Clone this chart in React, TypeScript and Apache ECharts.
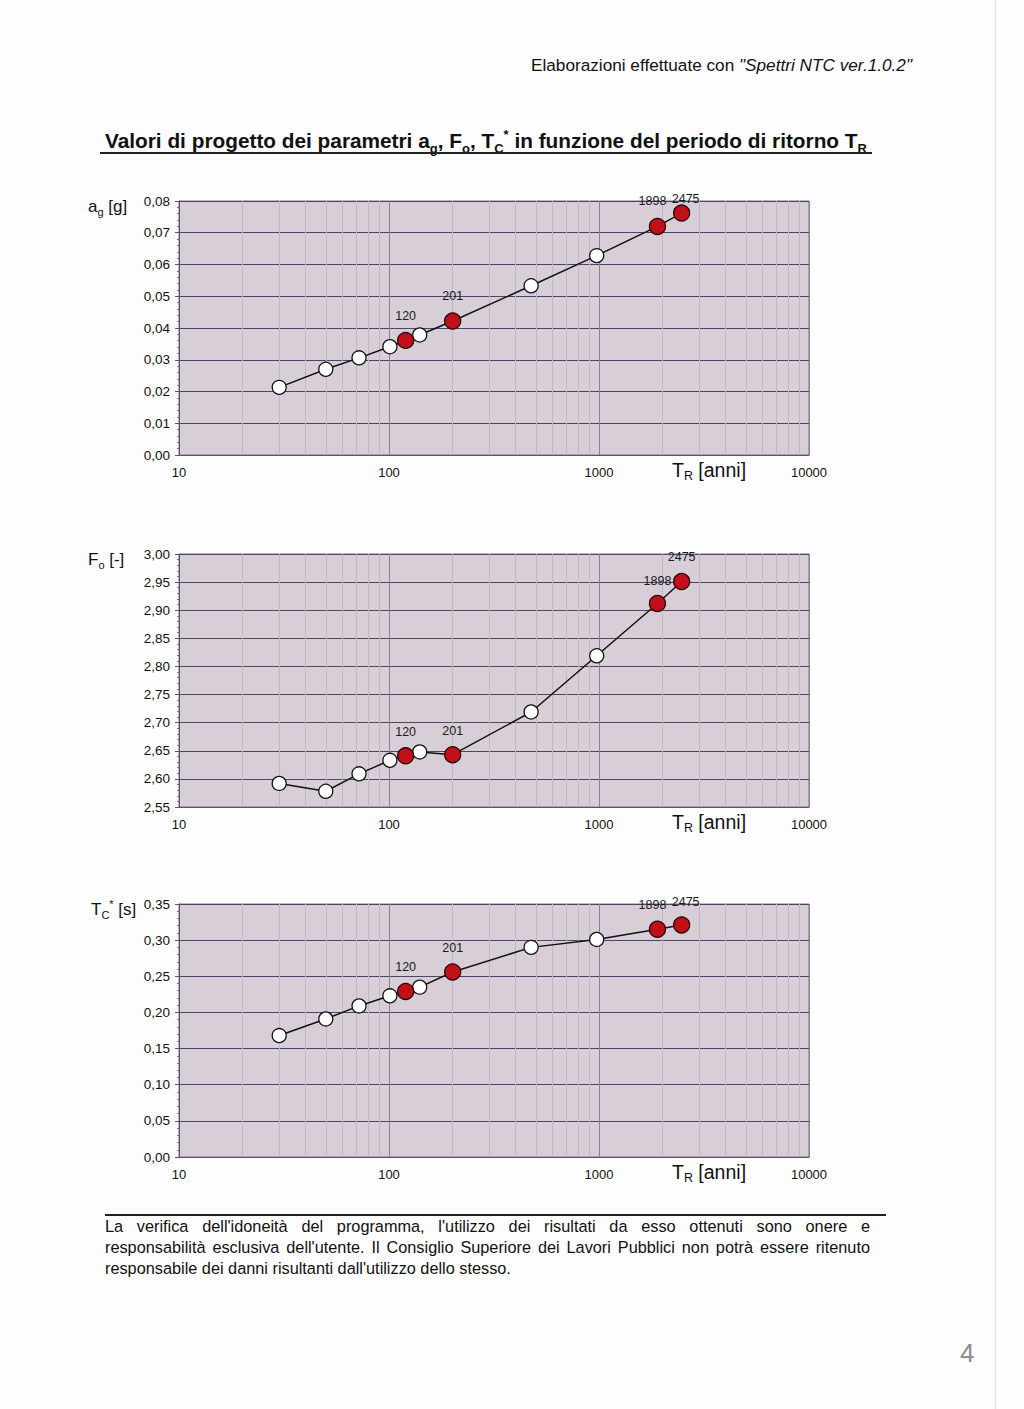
import React, { useEffect, useRef } from "react";
import * as echarts from "echarts";

// ---- data ----
const TR_ALL = [30, 50, 72, 101, 120, 140, 201, 475, 975, 1898, 2475];
const AG_VALUES = [0.0213, 0.027, 0.0306, 0.0341, 0.0361, 0.0378, 0.0422, 0.0533, 0.0628, 0.072, 0.0762];
const FO_VALUES = [2.592, 2.578, 2.609, 2.633, 2.641, 2.648, 2.643, 2.719, 2.819, 2.912, 2.951];
const TC_VALUES = [0.168, 0.191, 0.209, 0.223, 0.229, 0.235, 0.256, 0.29, 0.301, 0.315, 0.321];
const TR_HIGHLIGHT = [120, 201, 1898, 2475];
const MINOR_X_GRID = [20, 30, 40, 50, 60, 70, 80, 90, 200, 300, 400, 500, 600, 700, 800, 900, 2000, 3000, 4000, 5000, 6000, 7000, 8000, 9000];

const FONT = "'Liberation Sans', Arial, Helvetica, sans-serif";

type PlotDef = {
  top: number;
  height: number;
  values: number[];
  min: number;
  max: number;
  interval: number;
  labelDist: number[];
  labelShift: number[];
  nameText: string;
  nameLeft: number;
  nameTop: number;
};

const PLOTS: PlotDef[] = [
  { top: 201, height: 254, values: AG_VALUES, min: 0, max: 0.08, interval: 0.01, labelDist: [9, 10, 10, -1.5], labelShift: [0, 0, -5, 4], nameText: "{m|a}{s|g}{m| [g]}", nameLeft: 88, nameTop: 198 },
  { top: 554, height: 253, values: FO_VALUES, min: 2.55, max: 3.0, interval: 0.05, labelDist: [9, 9, 7.5, 9], labelShift: [0, 0, 0, 0], nameText: "{m|F}{s|o}{m| [-]}", nameLeft: 88, nameTop: 551 },
  { top: 904, height: 253, values: TC_VALUES, min: 0, max: 0.35, interval: 0.05, labelDist: [9, 9, 9, 7.5], labelShift: [0, 0, -5, 4], nameText: "{m|T}{s|C}{p|*}{m| [s]}", nameLeft: 91, nameTop: 898 },
];

const GRID_LEFT = 179;
const GRID_WIDTH = 630;

function buildOption() {
  const grid: any[] = [];
  const xAxis: any[] = [];
  const yAxis: any[] = [];
  const series: any[] = [];
  const graphic: any[] = [];

  const nameRich = {
    m: { fontSize: 17, lineHeight: 22, fontFamily: FONT, fill: "#111" },
    s: { fontSize: 11, lineHeight: 22, fontFamily: FONT, fill: "#111", verticalAlign: "bottom" },
    p: { fontSize: 11, lineHeight: 22, fontFamily: FONT, fill: "#111", verticalAlign: "top" },
  };
  const trRich = {
    m: { fontSize: 19.5, lineHeight: 24, fontFamily: FONT, fill: "#111" },
    s: { fontSize: 12.5, lineHeight: 24, fontFamily: FONT, fill: "#111", verticalAlign: "bottom" },
  };

  PLOTS.forEach((pl, i) => {
    grid.push({
      left: GRID_LEFT,
      top: pl.top,
      width: GRID_WIDTH,
      height: pl.height,
      show: true,
      backgroundColor: "#d8ced8",
      borderColor: "#7a7280",
      borderWidth: 1,
    });
    xAxis.push({
      gridIndex: i,
      type: "log",
      logBase: 10,
      min: 10,
      max: 10000,
      axisLine: { show: true, onZero: false, lineStyle: { color: "#5a5560", width: 1 } },
      axisTick: { show: false },
      axisLabel: {
        show: true,
        margin: 11,
        fontSize: 13,
        color: "#111",
        fontFamily: FONT,
        formatter: (v: number) => String(Math.round(v)),
      },
      splitLine: { show: true, lineStyle: { color: "#877f8e", width: 1 } },
    });
    yAxis.push({
      gridIndex: i,
      type: "value",
      min: pl.min,
      max: pl.max,
      interval: pl.interval,
      axisLine: { show: true, lineStyle: { color: "#5a5560", width: 1 } },
      axisTick: { show: true, length: 4, lineStyle: { color: "#5a5560" } },
      minorTick: { show: true, splitNumber: 5, length: 2, lineStyle: { color: "#7a7280" } },
      axisLabel: {
        margin: 9,
        fontSize: 13.5,
        color: "#111",
        fontFamily: FONT,
        formatter: (v: number) => v.toFixed(2).replace(".", ","),
      },
      splitLine: { show: true, lineStyle: { color: "#4e4566", width: 1 } },
    });

    // minor vertical grid lines (2..9 of each decade), drawn behind the data
    series.push({
      type: "line",
      xAxisIndex: i,
      yAxisIndex: i,
      data: [],
      silent: true,
      z: 1,
      markLine: {
        silent: true,
        z: 1,
        symbol: ["none", "none"],
        label: { show: false },
        animation: false,
        lineStyle: { color: "#c1b8c3", width: 1, type: "solid" },
        data: MINOR_X_GRID.map((v) => ({ xAxis: v })),
      },
    });

    series.push({
      type: "line",
      xAxisIndex: i,
      yAxisIndex: i,
      data: TR_ALL.map((t, k) => [t, pl.values[k]]),
      symbol: "circle",
      symbolSize: 14,
      showAllSymbol: true,
      lineStyle: { color: "#111", width: 1.5 },
      itemStyle: { color: "#ffffff", borderColor: "#111", borderWidth: 1.3 },
      z: 3,
    });

    series.push({
      type: "scatter",
      xAxisIndex: i,
      yAxisIndex: i,
      symbol: "circle",
      symbolSize: 16,
      itemStyle: { color: "#c2101a", borderColor: "#2a0606", borderWidth: 1.3, opacity: 1 },
      z: 4,
      label: {
        show: true,
        position: "top",
        fontSize: 12.5,
        color: "#1a1a1a",
        fontFamily: FONT,
        formatter: (p: any) => String(p.value[0]),
      },
      data: TR_HIGHLIGHT.map((t, j) => {
        const k = TR_ALL.indexOf(t);
        return {
          value: [t, pl.values[k]],
          label: { distance: pl.labelDist[j], offset: [pl.labelShift[j], 0] },
        };
      }),
    });

    graphic.push({
      type: "text",
      left: pl.nameLeft,
      top: pl.nameTop,
      style: { text: pl.nameText, rich: nameRich, fill: "#111", font: `17px ${FONT}` },
    });
    graphic.push({
      type: "text",
      left: 672,
      top: pl.top + pl.height + 5,
      style: {
        text: "{m|T}{s|R}{m| [anni]}",
        rich: trRich,
        fill: "#111",
        font: `19.5px ${FONT}`,
      },
    });
  });

  return {
    animation: false,
    backgroundColor: "transparent",
    grid,
    xAxis,
    yAxis,
    series,
    graphic,
  };
}

const subStyle: React.CSSProperties = { fontSize: 13, position: "relative", top: 5, lineHeight: 0 };
const supStyle: React.CSSProperties = { fontSize: 13, position: "relative", top: -9, lineHeight: 0 };

export default function App() {
  const ref = useRef<HTMLDivElement>(null);

  useEffect(() => {
    document.body.style.margin = "0";
    if (!ref.current) return;
    const chart = echarts.init(ref.current, undefined, { renderer: "svg" });
    chart.setOption(buildOption() as any);
    return () => chart.dispose();
  }, []);

  const page: React.CSSProperties = {
    position: "absolute",
    left: 0,
    top: 0,
    width: 1024,
    height: 1409,
    background: "#fdfdfd",
    overflow: "hidden",
    fontFamily: FONT,
    color: "#111",
  };

  const footLine: React.CSSProperties = {
    position: "absolute",
    left: 105,
    width: 765,
    fontSize: 16.3,
    lineHeight: "21px",
    whiteSpace: "nowrap",
  };

  return (
    <div style={page}>
      <div style={{ position: "absolute", left: 995, top: 0, width: 1, height: 1409, background: "#e6e6e6" }} />
      <div
        style={{
          position: "absolute",
          right: 112,
          top: 55,
          fontSize: 17.2,
          lineHeight: "20px",
          whiteSpace: "nowrap",
        }}
      >
        Elaborazioni effettuate con <i>"Spettri NTC ver.1.0.2"</i>
      </div>
      <div
        style={{
          position: "absolute",
          left: 105,
          top: 129,
          fontSize: 20.8,
          fontWeight: "bold",
          lineHeight: "24px",
          whiteSpace: "nowrap",
        }}
      >
        Valori di progetto dei parametri a<span style={subStyle}>g</span>, F<span style={subStyle}>o</span>, T
        <span style={subStyle}>C</span>
        <span style={supStyle}>*</span> in funzione del periodo di ritorno T<span style={subStyle}>R</span>
      </div>
      <div style={{ position: "absolute", left: 100, top: 152, width: 772, height: 2, background: "#222" }} />

      <div ref={ref} style={{ position: "absolute", left: 0, top: 0, width: 1024, height: 1200 }} />

      <div style={{ position: "absolute", left: 105, top: 1214, width: 781, height: 2, background: "#222" }} />
      <div style={{ ...footLine, top: 1216, textAlign: "justify", textAlignLast: "justify" }}>
        La verifica dell'idoneità del programma, l'utilizzo dei risultati da esso ottenuti sono onere e
      </div>
      <div style={{ ...footLine, top: 1237, textAlign: "justify", textAlignLast: "justify" }}>
        responsabilità esclusiva dell'utente. Il Consiglio Superiore dei Lavori Pubblici non potrà essere ritenuto
      </div>
      <div style={{ ...footLine, top: 1258 }}>responsabile dei danni risultanti dall'utilizzo dello stesso.</div>

      <div style={{ position: "absolute", left: 960, top: 1338, fontSize: 26, color: "#8a8a8a", fontWeight: 300 }}>4</div>
    </div>
  );
}
